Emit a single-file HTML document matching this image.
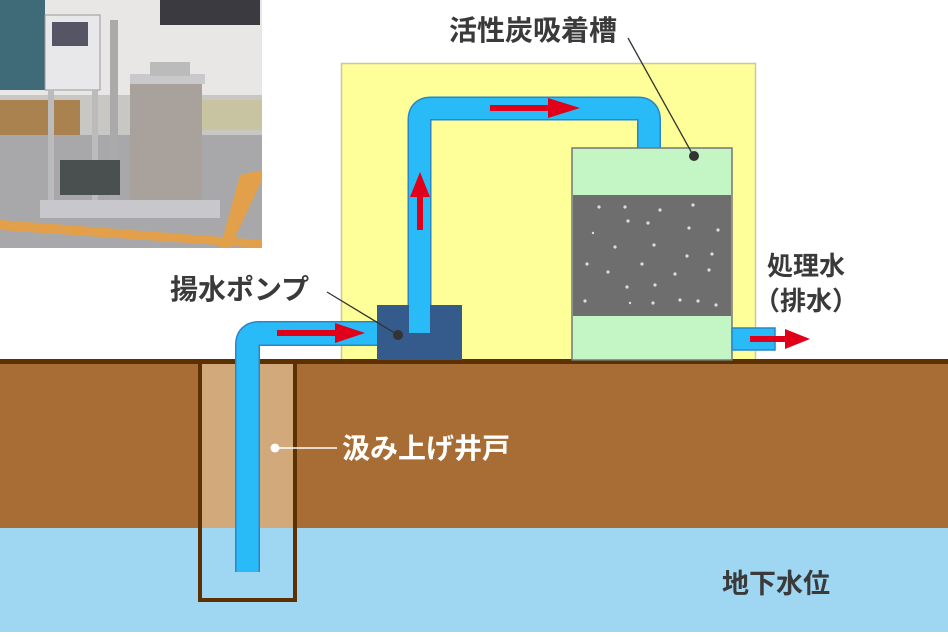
<!DOCTYPE html>
<html><head><meta charset="utf-8"><style>
html,body{margin:0;padding:0;background:#fff}
body{width:948px;height:632px;overflow:hidden;font-family:"Liberation Sans","Noto Sans CJK JP",sans-serif}
</style></head><body>
<svg width="948" height="632" viewBox="0 0 948 632" xmlns="http://www.w3.org/2000/svg" font-family="Liberation Sans, Noto Sans CJK JP, sans-serif">
<!-- photo -->
<g>
<rect x="0" y="0" width="262" height="248" fill="#c9c7c4"/>
<rect x="0" y="0" width="262" height="95" fill="#e9e6e6"/>
<rect x="0" y="0" width="45" height="90" fill="#3f6a78"/>
<rect x="160" y="0" width="100" height="25" fill="#3a3a40"/>
<rect x="0" y="100" width="80" height="35" fill="#a98250"/>
<rect x="200" y="100" width="62" height="30" fill="#c8c3a0"/>
<rect x="0" y="135" width="262" height="113" fill="#a8a8aa"/>
<polygon points="0,220 262,240 262,248 0,230" fill="#e2a04a"/>
<polygon points="240,175 262,170 262,180 230,248 220,248" fill="#e2a04a"/>
<rect x="45" y="15" width="55" height="75" fill="#e8e8ea" stroke="#999"/>
<rect x="52" y="22" width="36" height="24" fill="#556"/>
<rect x="48" y="90" width="6" height="120" fill="#bbb"/>
<rect x="92" y="90" width="6" height="120" fill="#bbb"/>
<rect x="110" y="20" width="8" height="180" fill="#aaa"/>
<rect x="130" y="80" width="72" height="132" fill="#a9a29c"/>
<rect x="130" y="74" width="75" height="10" fill="#c9c9cc"/>
<rect x="150" y="62" width="40" height="14" fill="#bbb"/>
<rect x="40" y="200" width="180" height="18" fill="#c8c8cc"/>
<rect x="60" y="160" width="60" height="35" fill="#4a5050"/>
</g>
<!-- yellow box -->
<rect x="341.5" y="63.5" width="414" height="298" fill="#ffff99" stroke="#c8c8a8" stroke-width="1.5"/>
<!-- ground -->
<rect x="0" y="364" width="948" height="165" fill="#a86d35"/>
<rect x="0" y="528" width="948" height="104" fill="#9fd6f2"/>
<rect x="0" y="359" width="948" height="5" fill="#5c3000"/>
<!-- well -->
<rect x="201" y="364" width="92" height="164" fill="#d2a97a"/>
<rect x="200" y="362" width="95" height="238" fill="none" stroke="#5c3000" stroke-width="4"/>
<!-- pipes -->
<path d="M247.5,572 V345 Q247.5,333.5 259,333.5 H390" fill="none" stroke="#2a86c8" stroke-width="25"/>
<path d="M247.5,572 V345 Q247.5,333.5 259,333.5 H390" fill="none" stroke="#29bbf7" stroke-width="22"/>
<path d="M419.5,333 V120 Q419.5,108.5 431,108.5 H638 Q649,108.5 649,120 V150" fill="none" stroke="#2a86c8" stroke-width="24"/>
<path d="M419.5,333 V120 Q419.5,108.5 431,108.5 H638 Q649,108.5 649,120 V150" fill="none" stroke="#29bbf7" stroke-width="21"/>
<!-- pump -->
<rect x="377" y="305" width="85" height="55" fill="#355a8c"/>
<rect x="409" y="305" width="21" height="28" fill="#29bbf7"/>
<!-- tank -->
<rect x="572" y="148" width="160" height="212" fill="#c4f5c4" stroke="#777" stroke-width="1.5"/>
<rect x="573" y="195" width="158" height="121" fill="#6e6e6e"/>
<g fill="#ddd">
<circle cx="599" cy="207" r="1.6"/><circle cx="625" cy="207" r="1.6"/><circle cx="660" cy="210" r="1.6"/><circle cx="693" cy="205" r="1.6"/>
<circle cx="628" cy="221" r="1.6"/><circle cx="648" cy="223" r="1.6"/><circle cx="689" cy="228" r="1.6"/><circle cx="718" cy="230" r="1.6"/>
<circle cx="593" cy="233" r="1.2"/><circle cx="615" cy="247" r="1.6"/><circle cx="654" cy="245" r="1.6"/><circle cx="687" cy="256" r="1.6"/><circle cx="712" cy="254" r="1.6"/>
<circle cx="587" cy="264" r="1.6"/><circle cx="642" cy="264" r="1.6"/><circle cx="608" cy="272" r="1.6"/><circle cx="675" cy="274" r="1.6"/><circle cx="709" cy="270" r="1.6"/>
<circle cx="627" cy="287" r="1.6"/><circle cx="655" cy="285" r="1.6"/><circle cx="698" cy="301" r="1.6"/><circle cx="585" cy="301" r="1.6"/><circle cx="653" cy="303" r="1.6"/><circle cx="716" cy="305" r="1.6"/><circle cx="630" cy="303" r="1.2"/><circle cx="680" cy="300" r="1.6"/>
</g>
<rect x="732" y="328" width="43" height="22" fill="#29bbf7" stroke="#2a86c8" stroke-width="1.5"/>
<!-- arrows -->
<g fill="#e0001a">
<rect x="277" y="330" width="60" height="6"/><polygon points="335,323 365,333 335,343"/>
<rect x="490" y="105" width="60" height="6"/><polygon points="548,98 580,108 548,118"/>
<rect x="417" y="195" width="6" height="35"/><polygon points="410,197 420,172 430,197"/>
<rect x="750" y="336" width="38" height="6"/><polygon points="785,329 810,339 785,349"/>
</g>
<!-- leaders -->
<line x1="628" y1="38" x2="693" y2="155" stroke="#333" stroke-width="1.3"/>
<circle cx="694" cy="156" r="5" fill="#333"/>
<line x1="327" y1="292" x2="398" y2="335" stroke="#333" stroke-width="1.3"/>
<circle cx="398" cy="335" r="5" fill="#333"/>
<line x1="278" y1="448" x2="337" y2="448" stroke="#fff" stroke-width="1.5"/>
<circle cx="275" cy="448" r="4.5" fill="#fff"/>
<!-- labels -->
<g font-size="28" font-weight="bold" fill="#3a3a3a">
<text x="449" y="40">活性炭吸着槽</text>
<text x="170" y="299">揚水ポンプ</text>
<text x="767" y="275" font-size="26">処理水</text>
<text x="754" y="310" font-size="26">（排水）</text>
<text x="342" y="458" fill="#fff">汲み上げ井戸</text>
<text x="722" y="593" font-size="27">地下水位</text>
</g>
</svg>
</body></html>
